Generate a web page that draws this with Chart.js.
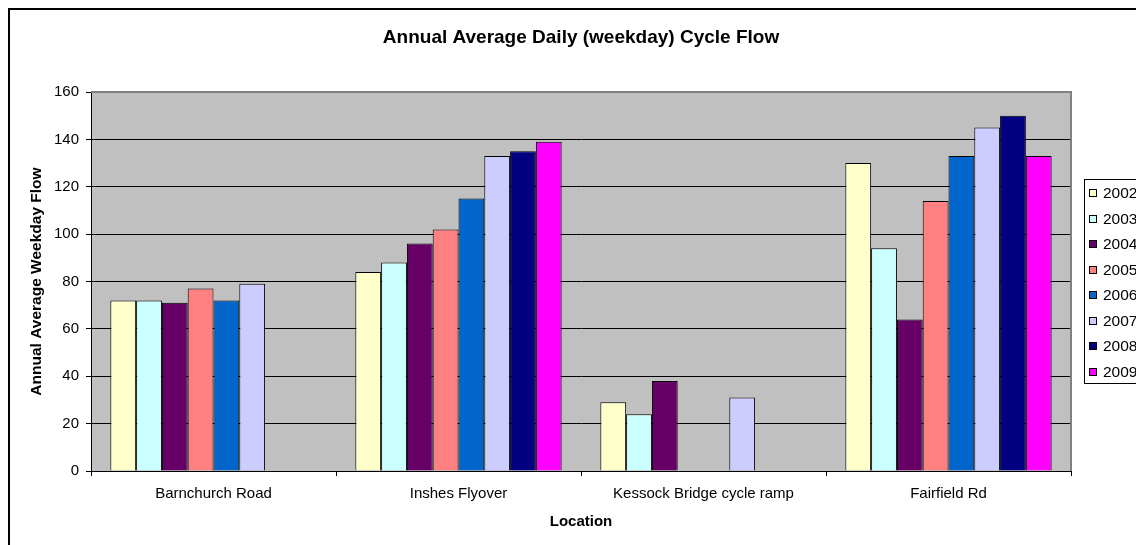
<!DOCTYPE html>
<html lang="en">
<head>
  <meta charset="UTF-8">
  <title>Annual Average Daily (weekday) Cycle Flow</title>
  <style>
    html, body {
      margin: 0;
      padding: 0;
      background: #fff;
      overflow: hidden;
    }
    .chart-wrap {
      position: absolute;
      left: 0;
      top: 0;
      width: 1200px;
      height: 600px;
    }
  </style>
  <script src="https://cdn.jsdelivr.net/npm/chart.js"></script>
</head>
<body>
  <div class="chart-wrap">
    <canvas id="flowChart" width="1200" height="600"></canvas>
  </div>

  <script>
    // Data
    const locations = ['Barnchurch Road', 'Inshes Flyover', 'Kessock Bridge cycle ramp', 'Fairfield Rd'];
    const years = ['2002', '2003', '2004', '2005', '2006', '2007', '2008', '2009'];

    const flow2002 = [72, 84, 29, 130];
    const flow2003 = [72, 88, 24, 94];
    const flow2004 = [71, 96, 38, 64];
    const flow2005 = [77, 102, null, 114];
    const flow2006 = [72, 115, null, 133];
    const flow2007 = [79, 133, 31, 145];
    const flow2008 = [null, 135, null, 150];
    const flow2009 = [null, 139, null, 133];

    const yearColors = ['#FFFFCC', '#CCFFFF', '#660066', '#FF8080', '#0066CC', '#CCCCFF', '#000080', '#FF00FF'];
    const allFlows = [flow2002, flow2003, flow2004, flow2005, flow2006, flow2007, flow2008, flow2009];

    const FONT = '"Liberation Sans", Arial, Helvetica, sans-serif';

    // plot background, frame, outer border and legend
    const excelLook = {
      id: 'excelLook',
      beforeDraw(chart) {
        const {ctx, chartArea: a} = chart;
        ctx.save();
        ctx.fillStyle = '#C0C0C0';
        ctx.fillRect(a.left, a.top, a.right - a.left, a.bottom - a.top);
        ctx.restore();
      },
      afterDraw(chart) {
        const {ctx, chartArea: a} = chart;
        ctx.save();
        // plot frame (top / right)
        ctx.strokeStyle = '#808080';
        ctx.lineWidth = 2;
        ctx.beginPath();
        ctx.moveTo(a.left, a.top);
        ctx.lineTo(a.right, a.top);
        ctx.lineTo(a.right, a.bottom);
        ctx.stroke();

        // outer chart border
        ctx.strokeStyle = '#000';
        ctx.lineWidth = 2;
        ctx.beginPath();
        ctx.moveTo(9, chart.height);
        ctx.lineTo(9, 9);
        ctx.lineTo(chart.width, 9);
        ctx.stroke();

        // legend box
        const lx = 1084, ly = 179, lh = 204;
        ctx.fillStyle = '#fff';
        ctx.fillRect(lx, ly, 200, lh);
        ctx.strokeStyle = '#000';
        ctx.lineWidth = 1;
        ctx.strokeRect(lx + 0.5, ly + 0.5, 200, lh);

        ctx.font = '15.5px ' + FONT;
        ctx.textBaseline = 'middle';
        ctx.textAlign = 'left';
        chart.data.datasets.forEach((ds, i) => {
          const cy = Math.round(193 + i * 25.5);
          ctx.fillStyle = ds.backgroundColor;
          ctx.fillRect(lx + 5, cy - 4, 8, 8);
          ctx.strokeStyle = '#000';
          ctx.strokeRect(lx + 5.5, cy - 3.5, 7, 7);
          ctx.fillStyle = '#000';
          ctx.fillText(ds.label, lx + 19, cy + 1);
        });
        ctx.restore();
      }
    };

    const ctx = document.getElementById('flowChart').getContext('2d');
    new Chart(ctx, {
      type: 'bar',
      data: {
        labels: locations,
        datasets: years.map((y, i) => ({
          label: y,
          data: allFlows[i],
          backgroundColor: yearColors[i],
          borderColor: '#000',
          borderWidth: 1,
          categoryPercentage: 8 / 9.5,
          barPercentage: 1
        }))
      },
      options: {
        responsive: false,
        animation: false,
        layout: {
          padding: { left: 0, right: 129, top: 0, bottom: 49 }
        },
        plugins: {
          legend: { display: false },
          tooltip: { enabled: false },
          title: {
            display: true,
            text: 'Annual Average Daily (weekday) Cycle Flow',
            color: '#000',
            fullSize: false,
            font: { family: FONT, size: 19, weight: 'bold' },
            padding: { top: 26.6, bottom: 42.6 }
          }
        },
        scales: {
          x: {
            grid: {
              drawOnChartArea: false,
              drawTicks: true,
              tickLength: 5,
              color: '#000',
              offset: true
            },
            border: { display: true, color: '#000', width: 1 },
            ticks: {
              color: '#000',
              padding: 9,
              maxRotation: 0,
              font: { family: FONT, size: 15 }
            },
            title: {
              display: true,
              text: 'Location',
              color: '#000',
              font: { family: FONT, size: 15, weight: 'bold' },
              padding: { top: 1, bottom: 20 }
            }
          },
          y: {
            min: 0,
            max: 160,
            afterFit(scale) { scale.width = 91; },
            grid: {
              color: '#000',
              lineWidth: 1,
              tickLength: 5
            },
            border: { display: true, color: '#000', width: 1 },
            ticks: {
              stepSize: 20,
              color: '#000',
              padding: 7,
              font: { family: FONT, size: 15 }
            },
            title: {
              display: true,
              text: 'Annual Average Weekday Flow',
              color: '#000',
              font: { family: FONT, size: 15.5, weight: 'bold' },
              padding: { top: 27, bottom: 4 }
            }
          }
        }
      },
      plugins: [excelLook]
    });
  </script>
</body>
</html>
